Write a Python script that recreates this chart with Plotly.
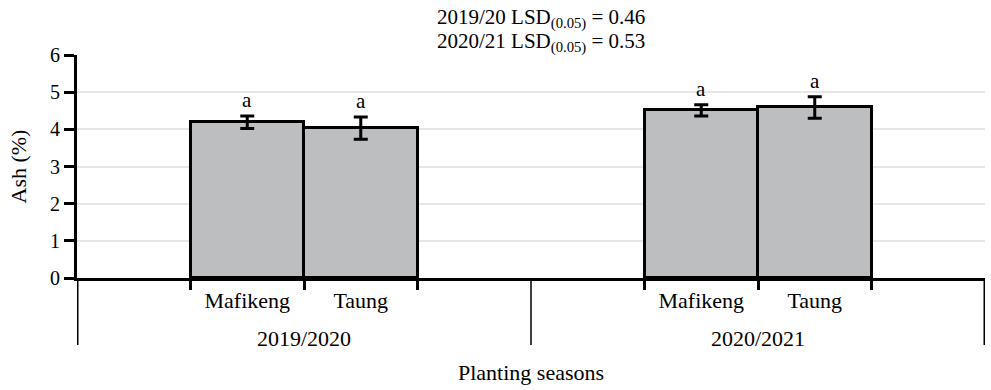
import plotly.graph_objects as go

seasons = ["2019/2020", "2020/2021"]
sites = ["Mafikeng", "Taung"]
ash_mean = {"2019/2020": [4.19, 4.03], "2020/2021": [4.51, 4.59]}
ash_err = {"2019/2020": [0.17, 0.30], "2020/2021": [0.15, 0.29]}
letters = {"2019/2020": ["a", "a"], "2020/2021": ["a", "a"]}
lsd_lines = ["2019/20 LSD<sub>(0.05)</sub> = 0.46", "2020/21 LSD<sub>(0.05)</sub> = 0.53"]
y_ticks = [0, 1, 2, 3, 4, 5, 6]

FONT = "Liberation Serif, Times New Roman, serif"
BAR_W = 0.5
GROUP_W = 2.0

fig = go.Figure()
xs, ys, es, ls, names = [], [], [], [], []
edges = []
for gi, s in enumerate(seasons):
    center = gi * GROUP_W + GROUP_W / 2
    n = len(sites)
    for si, site in enumerate(sites):
        x = center + (si - (n - 1) / 2) * BAR_W
        xs.append(x)
        ys.append(ash_mean[s][si])
        es.append(ash_err[s][si])
        ls.append(letters[s][si])
        names.append(site)
    for k in range(n + 1):
        edges.append(center + (k - n / 2) * BAR_W)

fig.add_trace(go.Bar(
    x=xs, y=ys, width=BAR_W,
    marker=dict(color="#bdbec0", line=dict(color="black", width=3)),
    error_y=dict(type="data", array=es, color="black", thickness=3, width=7),
    showlegend=False, hoverinfo="skip",
))

annotations = []
for x, y, e, l in zip(xs, ys, es, ls):
    annotations.append(dict(x=x, y=y + e, xref="x", yref="y", text=l, showarrow=False,
                            yanchor="bottom", yshift=2, font=dict(family=FONT, size=21, color="black")))
for gi, s in enumerate(seasons):
    annotations.append(dict(x=gi * GROUP_W + GROUP_W / 2, y=0, xref="x", yref="paper", text=s,
                            showarrow=False, yanchor="middle", yshift=-60,
                            font=dict(family=FONT, size=22, color="black")))
annotations.append(dict(x=0.5, y=0, xref="paper", yref="paper", text="Planting seasons", showarrow=False,
                        yanchor="middle", yshift=-94, font=dict(family=FONT, size=22, color="black")))
annotations.append(dict(x=0, y=0.5, xref="paper", yref="paper", text="Ash (%)", showarrow=False,
                        textangle=-90, xanchor="center", xshift=-59,
                        font=dict(family=FONT, size=22, color="black")))
for li, line in enumerate(lsd_lines):
    annotations.append(dict(x=0.5, y=1, xref="paper", yref="paper", text=line,
                            showarrow=False, yanchor="middle", xshift=10, yshift=37 - 24 * li,
                            font=dict(family=FONT, size=21, color="black")))

shapes = []
n_groups = len(seasons)
for k in range(n_groups + 1):
    xv = k * GROUP_W
    outer = k == 0 or k == n_groups
    shapes.append(dict(type="line", xref="x", yref="paper", x0=xv, x1=xv, y0=0, y1=-0.30,
                       line=dict(color="black", width=3 if outer else 1.5)))

fig.update_layout(
    width=991, height=390,
    margin=dict(l=77, r=6, t=55, b=112, autoexpand=False),
    plot_bgcolor="white", paper_bgcolor="white",
    annotations=annotations, shapes=shapes,
    xaxis=dict(range=[0, n_groups * GROUP_W], tickmode="array", tickvals=xs, ticktext=names,
               ticks="", ticklabelstandoff=1,
               tickfont=dict(family=FONT, size=22, color="black"),
               minor=dict(tickmode="array", tickvals=edges, ticks="outside", ticklen=9,
                          tickwidth=2.5, tickcolor="black", showgrid=False),
               automargin=False,
               showline=True, linecolor="black", linewidth=3, showgrid=False, zeroline=False),
    yaxis=dict(range=[0, 6], tickvals=y_ticks, ticks="outside", ticklen=10, tickwidth=3,
               tickcolor="black", showline=True, linecolor="black", linewidth=3, automargin=False,
               showgrid=True, gridcolor="#e6e6e6", gridwidth=2, zeroline=False,
               tickfont=dict(family=FONT, size=20, color="black")),
    bargap=0,
)

fig.write_html("out.html", config={"displayModeBar": False},
               post_script="document.body.style.margin='0';document.body.style.padding='0';")
